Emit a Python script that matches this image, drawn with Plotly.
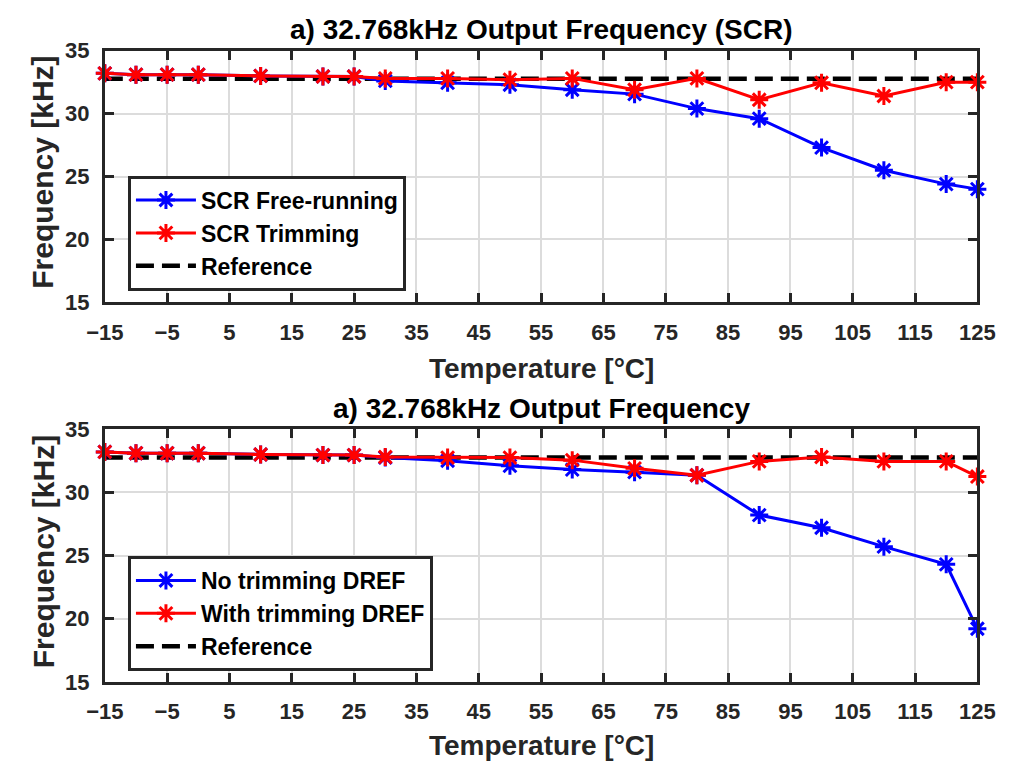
import plotly.graph_objects as go

# ---------------- data ----------------
temps = [-15, -10, -5, 0, 10, 20, 25, 30, 40, 50, 60, 70, 80, 90, 100, 110, 120, 125]
scr_free = [33.2, 33.1, 33.1, 33.1, 33.0, 32.95, 32.95, 32.6, 32.45, 32.3, 31.9, 31.55, 30.4, 29.6, 27.3, 25.5, 24.4, 24.0]
scr_trim = [33.2, 33.1, 33.1, 33.1, 33.0, 32.95, 32.95, 32.8, 32.8, 32.7, 32.8, 31.9, 32.8, 31.1, 32.45, 31.4, 32.5, 32.5]
no_trim = [33.2, 33.1, 33.1, 33.1, 33.0, 32.95, 32.95, 32.75, 32.5, 32.1, 31.8, 31.6, 31.35, 28.2, 27.2, 25.7, 24.3, 19.2]
with_trim = [33.2, 33.1, 33.1, 33.1, 33.0, 32.95, 32.95, 32.8, 32.75, 32.75, 32.55, 31.9, 31.35, 32.45, 32.8, 32.45, 32.45, 31.25]
ref_x = [-15, 125]
ref_y = [32.768, 32.768]

titles = ["a) 32.768kHz Output Frequency (SCR)", "a) 32.768kHz Output Frequency"]
names_top = ["SCR Free-running", "SCR Trimming", "Reference"]
names_bot = ["No trimming DREF", "With trimming DREF", "Reference"]
x_ticks = list(range(-15, 126, 10))
y_ticks = [15, 20, 25, 30, 35]

FONT = "Liberation Sans, Arial, sans-serif"
AX = "#262626"
W, H = 1032, 780

fig = go.Figure()


def add_panel(idx, blue, red, names, legend):
    xa = "x" if idx == 1 else "x2"
    ya = "y" if idx == 1 else "y2"
    fig.add_trace(go.Scatter(x=ref_x, y=ref_y, mode="lines", name=names[2],
                             line=dict(color="black", width=4.5, dash="18px,8px"),
                             xaxis=xa, yaxis=ya, legend=legend, legendrank=3,
                             legendgroup=f"{legend}c"))
    for vals, col, nm, rk, g in [(blue, "#0000ff", names[0], 1, "a"), (red, "#ff0000", names[1], 2, "b")]:
        fig.add_trace(go.Scatter(x=temps, y=vals, mode="lines+markers", name=nm,
                                 line=dict(color=col, width=3),
                                 marker=dict(symbol="asterisk-open", size=15,
                                             color=col, line=dict(color=col, width=3)),
                                 cliponaxis=False,
                                 xaxis=xa, yaxis=ya, legend=legend, legendrank=rk,
                                 legendgroup=f"{legend}{g}"))


add_panel(1, scr_free, scr_trim, names_top, "legend")
add_panel(2, no_trim, with_trim, names_bot, "legend2")

x0, x1 = 89 / W, 994 / W
top_dom = [1 - 300 / H, 1 - 40 / H]
bot_dom = [1 - 692 / H, 1 - 431 / H]

tickfont = dict(family=FONT, size=22, color=AX, weight="bold")


def xaxis(anchor):
    return dict(domain=[x0, x1], range=[-15, 125], tickvals=x_ticks, anchor=anchor,
                showline=True, linecolor=AX, linewidth=3, mirror="ticks",
                ticks="inside", ticklen=9, tickwidth=3, tickcolor=AX,
                showgrid=True, gridcolor="#dcdcdc", gridwidth=2,
                zeroline=False, tickfont=tickfont, ticklabelstandoff=8)


def yaxis(anchor, dom):
    return dict(domain=dom, range=[15, 35], tickvals=y_ticks, anchor=anchor,
                showline=True, linecolor=AX, linewidth=3, mirror="ticks",
                ticks="inside", ticklen=9, tickwidth=3, tickcolor=AX,
                showgrid=True, gridcolor="#dcdcdc", gridwidth=2,
                zeroline=False, tickfont=tickfont, ticklabelstandoff=8)


legend_style = dict(font=dict(family=FONT, size=23, color="black", weight="bold"),
                    bordercolor=AX, borderwidth=3, bgcolor="white",
                    xanchor="left", yanchor="top", itemwidth=60,
                    tracegroupgap=0, orientation="v")

fig.update_layout(
    width=W, height=H,
    margin=dict(l=0, r=0, t=0, b=0),
    paper_bgcolor="white", plot_bgcolor="white",
    xaxis=xaxis("y"), yaxis=yaxis("x", top_dom),
    xaxis2=xaxis("y2"), yaxis2=yaxis("x2", bot_dom),
    legend=dict(x=113 / W, y=1 - 169 / H, **legend_style),
    legend2=dict(x=113 / W, y=1 - 562 / H, **legend_style),
    showlegend=True,
)

cx = (89 + 994) / 2 / W
ann = []
for t, yc in [(titles[0], 18), (titles[1], 410)]:
    ann.append(dict(text=t, x=cx, y=1 - yc / H, xref="paper", yref="paper",
                    showarrow=False, xanchor="center", yanchor="middle",
                    font=dict(family=FONT, size=28, color="black", weight="bold")))
for yc in [368, 758]:
    ann.append(dict(text="Temperature [°C]", x=cx, y=1 - yc / H, xref="paper", yref="paper",
                    showarrow=False, xanchor="center", yanchor="middle",
                    font=dict(family=FONT, size=28, color=AX, weight="bold")))
for yc in [166, 558]:
    ann.append(dict(text="Frequency [kHz]", x=25 / W, y=1 - yc / H, xref="paper", yref="paper",
                    showarrow=False, xanchor="center", yanchor="middle", textangle=-90,
                    font=dict(family=FONT, size=30, color=AX, weight="bold")))
fig.update_layout(annotations=ann)

fig.write_html("out.html")
